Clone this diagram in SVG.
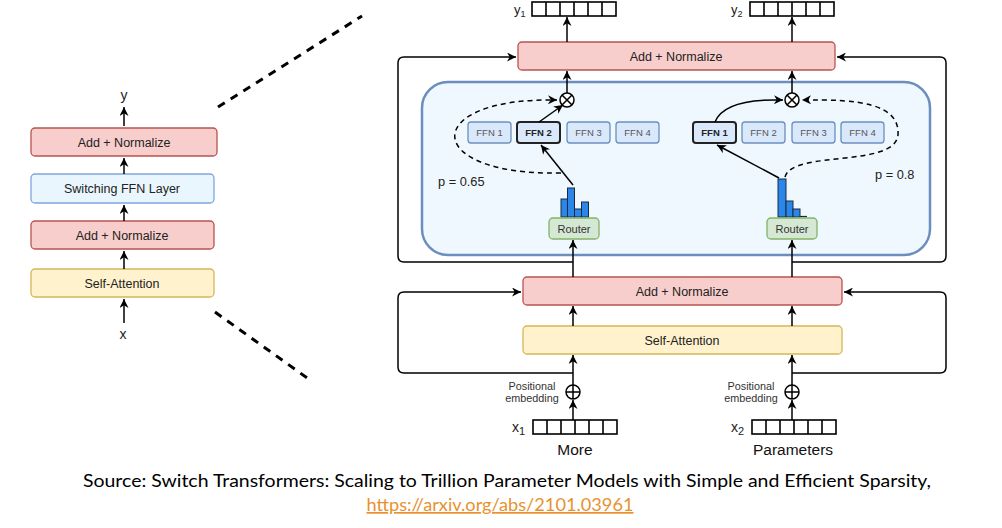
<svg xmlns="http://www.w3.org/2000/svg" width="1002" height="528" viewBox="0 0 1002 528">
<defs>
<marker id="ah" viewBox="0 0 10 10" refX="10" refY="5" markerWidth="6" markerHeight="6" orient="auto" markerUnits="strokeWidth">
<path d="M0,0 L10,5 L0,10 L3,5 z" fill="#000"/>
</marker>
<g id="vec">
<rect x="0" y="0" width="84" height="14" fill="#fff" stroke="#000" stroke-width="1.6"/>
<path d="M14,0 V14 M28,0 V14 M42,0 V14 M56,0 V14 M70,0 V14" stroke="#000" stroke-width="1.6"/>
</g>
</defs>
<style>
text{font-family:"Liberation Sans",Arial,sans-serif;fill:#222}
.pink{fill:#f8cecc;stroke:#b85450;stroke-width:1.3}
.yel{fill:#fff2cc;stroke:#d6b656;stroke-width:1.3}
.lblue{fill:#eaf6fd;stroke:#7ea6e0;stroke-width:1.3}
.ffn{fill:#dae8fc;stroke:#6c8ebf;stroke-width:1.3}
.ffnsel{fill:#dae8fc;stroke:#222;stroke-width:2}
.grn{fill:#d5e8d4;stroke:#82b366;stroke-width:1.3}
.bar{fill:#2a86e8;stroke:#1a2a40;stroke-width:1}
.arr{fill:none;stroke:#000;stroke-width:1.5;marker-end:url(#ah)}
.dash{fill:none;stroke:#000;stroke-width:1.5;stroke-dasharray:5,4}
.zoom{fill:none;stroke:#000;stroke-width:3;stroke-dasharray:8,7}
.t12{font-size:12.5px;text-anchor:middle}
.t13{font-size:14px;text-anchor:middle}
.t10{font-size:9.5px;text-anchor:middle;fill:#555}
.t10b{font-size:9.5px;text-anchor:middle;font-weight:bold;fill:#222}
.rt{font-size:11px;text-anchor:middle;fill:#333}
.pos{font-size:10.8px;text-anchor:middle;fill:#333}
.word{font-size:15.5px;text-anchor:middle;fill:#111}
.p{font-size:12.8px;fill:#222}
.cap{font-family:Lato,"Open Sans",sans-serif;font-size:17px;text-anchor:middle}
</style>
<rect width="1002" height="528" fill="#fff"/>

<!-- zoom lines -->
<g id="zoomlines">
<line class="zoom" x1="218" y1="107" x2="362" y2="16"/>
<line class="zoom" x1="215" y1="312" x2="310" y2="380"/>
</g>

<!-- left stack -->
<g id="left-y"><text x="124" y="100" class="t13">y</text></g>
<g id="left-addnorm2"><rect class="pink" x="31" y="128" width="186" height="28" rx="4"/><text x="124" y="146.5" class="t12">Add + Normalize</text></g>
<g id="left-switch"><rect class="lblue" x="31" y="174" width="183" height="29" rx="4"/><text x="122" y="193" class="t12">Switching FFN Layer</text></g>
<g id="left-addnorm1"><rect class="pink" x="31" y="221" width="183" height="28" rx="4"/><text x="122" y="239.5" class="t12">Add + Normalize</text></g>
<g id="left-selfatt"><rect class="yel" x="31" y="269" width="183" height="28" rx="4"/><text x="122" y="287.5" class="t12">Self-Attention</text></g>
<g id="left-x"><text x="123" y="339" class="t13">x</text></g>

<!-- right panel nodes -->
<g id="panel"><rect x="422" y="82" width="508" height="173" rx="26" fill="#eff8fe" stroke="#6c8ebf" stroke-width="2.5"/></g>
<g id="y1vec"><text x="514" y="14" style="font-size:13px">y<tspan style="font-size:9px" dy="3">1</tspan></text><use href="#vec" x="532" y="2"/></g>
<g id="y2vec"><text x="731" y="14" style="font-size:13px">y<tspan style="font-size:9px" dy="3">2</tspan></text><use href="#vec" x="750" y="2"/></g>
<g id="top-addnorm"><rect class="pink" x="518" y="42" width="317" height="28" rx="4"/><text x="676" y="60.5" class="t12">Add + Normalize</text></g>

<g id="mul1"><circle cx="567" cy="100" r="7" fill="#fff" stroke="#000" stroke-width="1.5"/><path d="M562,95 L572,105 M572,95 L562,105" stroke="#000" stroke-width="1.5"/></g>
<g id="mul2"><circle cx="792" cy="100" r="7" fill="#fff" stroke="#000" stroke-width="1.5"/><path d="M787,95 L797,105 M797,95 L787,105" stroke="#000" stroke-width="1.5"/></g>

<g id="ffnL1"><rect class="ffn" x="468" y="122" width="43" height="21" rx="3"/><text x="489.5" y="136" class="t10">FFN 1</text></g>
<g id="ffnL2"><rect class="ffnsel" x="517" y="122" width="43" height="21" rx="3"/><text x="538.5" y="136" class="t10b">FFN 2</text></g>
<g id="ffnL3"><rect class="ffn" x="567" y="122" width="43" height="21" rx="3"/><text x="588.5" y="136" class="t10">FFN 3</text></g>
<g id="ffnL4"><rect class="ffn" x="616" y="122" width="43" height="21" rx="3"/><text x="637.5" y="136" class="t10">FFN 4</text></g>

<g id="ffnR1"><rect class="ffnsel" x="693" y="122" width="43" height="21" rx="3"/><text x="714.5" y="136" class="t10b">FFN 1</text></g>
<g id="ffnR2"><rect class="ffn" x="742" y="122" width="43" height="21" rx="3"/><text x="763.5" y="136" class="t10">FFN 2</text></g>
<g id="ffnR3"><rect class="ffn" x="792" y="122" width="43" height="21" rx="3"/><text x="813.5" y="136" class="t10">FFN 3</text></g>
<g id="ffnR4"><rect class="ffn" x="841" y="122" width="43" height="21" rx="3"/><text x="862.5" y="136" class="t10">FFN 4</text></g>

<g id="histL">
<rect class="bar" x="561" y="199" width="6.5" height="18"/>
<rect class="bar" x="567.5" y="188" width="7" height="29"/>
<rect class="bar" x="574.5" y="209" width="7" height="8"/>
<rect class="bar" x="581.5" y="202" width="7" height="15"/>
</g>
<g id="histR">
<rect class="bar" x="778" y="179" width="8" height="38"/>
<rect class="bar" x="786" y="201" width="7" height="16"/>
<rect class="bar" x="793" y="209" width="7" height="8"/>
<line x1="800" y1="216.5" x2="807" y2="216.5" stroke="#1a2a40" stroke-width="1.2"/>
</g>

<g id="routerL"><rect class="grn" x="549" y="218" width="50" height="21" rx="4"/><text x="574" y="232.5" class="rt">Router</text></g>
<g id="routerR"><rect class="grn" x="767" y="218" width="50" height="21" rx="4"/><text x="792" y="232.5" class="rt">Router</text></g>

<g id="pL"><text x="438" y="186" class="p">p = 0.65</text></g>
<g id="pR"><text x="875" y="179" class="p">p = 0.8</text></g>

<g id="mid-addnorm"><rect class="pink" x="523" y="277" width="319" height="28" rx="4"/><text x="682" y="295.5" class="t12">Add + Normalize</text></g>
<g id="selfatt"><rect class="yel" x="523" y="326" width="319" height="28" rx="4"/><text x="682" y="344.5" class="t12">Self-Attention</text></g>

<g id="plus1"><circle cx="573" cy="392" r="7" fill="#fff" stroke="#000" stroke-width="1.5"/><path d="M566,392 H580 M573,385 V399" stroke="#000" stroke-width="1.5"/></g>
<g id="plus2"><circle cx="792" cy="392" r="7" fill="#fff" stroke="#000" stroke-width="1.5"/><path d="M785,392 H799 M792,385 V399" stroke="#000" stroke-width="1.5"/></g>
<g id="pos1"><text x="532" y="390" class="pos">Positional</text><text x="532" y="402" class="pos">embedding</text></g>
<g id="pos2"><text x="751" y="390" class="pos">Positional</text><text x="751" y="402" class="pos">embedding</text></g>

<g id="x1vec"><text x="512" y="432" style="font-size:14px">x<tspan style="font-size:11px" dy="3">1</tspan></text><use href="#vec" x="533" y="420"/><text x="575" y="455" class="word">More</text></g>
<g id="x2vec"><text x="731" y="432" style="font-size:14px">x<tspan style="font-size:11px" dy="3">2</tspan></text><use href="#vec" x="752" y="420"/><text x="793" y="455" class="word">Parameters</text></g>

<!-- connectors -->
<g id="connectors">
<line class="arr" x1="124" y1="126" x2="124" y2="107"/>
<line class="arr" x1="124" y1="174" x2="124" y2="158"/>
<line class="arr" x1="124" y1="221" x2="124" y2="205"/>
<line class="arr" x1="124" y1="269" x2="124" y2="251"/>
<line class="arr" x1="124" y1="323" x2="124" y2="299"/>

<line class="arr" x1="567" y1="42" x2="567" y2="17"/>
<line class="arr" x1="792" y1="42" x2="792" y2="17"/>
<line class="arr" x1="567" y1="93" x2="567" y2="71"/>
<line class="arr" x1="792" y1="93" x2="792" y2="71"/>

<line class="arr" x1="573" y1="185" x2="541" y2="145"/>
<line class="arr" x1="539" y1="122" x2="563" y2="105"/>
<path class="dash" d="M561,173 C420,176 420,97 557,100" marker-end="url(#ah)"/>

<line class="arr" x1="779" y1="178" x2="717" y2="145"/>
<path class="arr" d="M715,122 C722,104 748,99 783,100"/>
<path class="dash" d="M785,177 C792,150 895,168 898,135 C900,104 860,99 802,100" marker-end="url(#ah)"/>

<line class="arr" x1="573" y1="277" x2="573" y2="240"/>
<line class="arr" x1="792" y1="277" x2="792" y2="240"/>

<path class="arr" d="M573,262 H404 Q398,262 398,256 V63 Q398,57 404,57 H516"/>
<path class="arr" d="M792,262 H940 Q946,262 946,256 V63 Q946,57 940,57 H837"/>

<line class="arr" x1="573" y1="326" x2="573" y2="306"/>
<line class="arr" x1="792" y1="326" x2="792" y2="306"/>
<line class="arr" x1="573" y1="385" x2="573" y2="355"/>
<line class="arr" x1="792" y1="385" x2="792" y2="355"/>
<line class="arr" x1="573" y1="420" x2="573" y2="400"/>
<line class="arr" x1="792" y1="420" x2="792" y2="400"/>
<path class="arr" d="M573,373 H404 Q398,373 398,367 V298 Q398,292 404,292 H521"/>
<path class="arr" d="M792,373 H940 Q946,373 946,367 V298 Q946,292 940,292 H844"/>
</g>

<!-- caption -->
<g id="caption">
<text x="507" y="487" class="cap" style="fill:#000" textLength="848" lengthAdjust="spacingAndGlyphs">Source: Switch Transformers: Scaling to Trillion Parameter Models with Simple and Efficient Sparsity,</text>
<text x="500" y="511" class="cap" style="fill:#e8912d" textLength="267" lengthAdjust="spacingAndGlyphs" text-decoration="underline">https://arxiv.org/abs/2101.03961</text>
</g>
</svg>
